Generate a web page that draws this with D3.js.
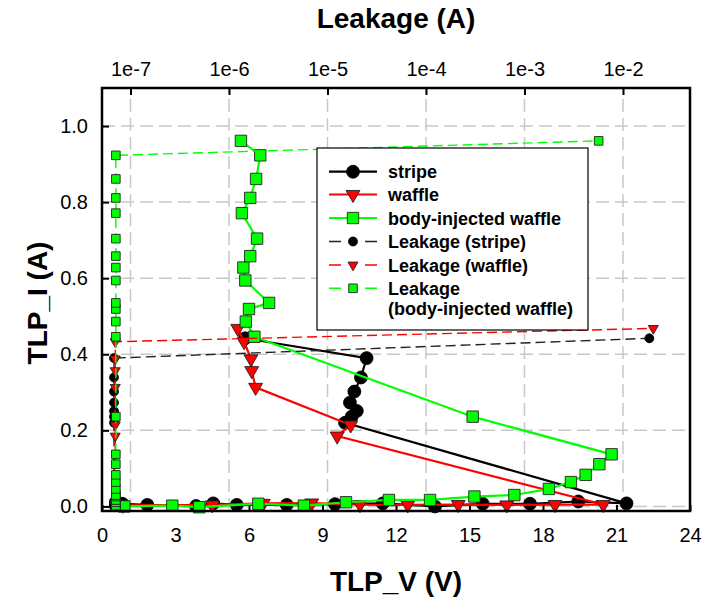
<!DOCTYPE html>
<html>
<head>
<meta charset="utf-8">
<script src="https://cdn.jsdelivr.net/npm/d3@7/dist/d3.min.js"></script>
<style>
  body { margin: 0; background: #fff; }
  svg { display: block; }
  text { font-family: Arial, "Liberation Sans", sans-serif; fill: #000; }
</style>
</head>
<body>
<svg id="chart" width="705" height="604"></svg>
<script>
// ---- TLP I-V data (bottom axis: TLP_V, left axis: TLP_I) ----
const stripeV = [0.83, 1.85, 3.84, 4.54, 5.5, 7.54, 9.51, 11.46, 13.59, 15.54, 17.47, 19.44, 21.41,
                 9.92, 10.19, 10.4, 10.12, 10.3, 10.57, 10.8, 5.84];
const stripeI = [0.007, 0.004, 0.001, 0.008, 0.004, 0.004, 0.006, 0.008, 0.0, 0.007, 0.007, 0.013, 0.008,
                 0.220, 0.236, 0.251, 0.273, 0.302, 0.339, 0.390, 0.442];

const waffleV = [0.85, 4.5, 6.58, 8.56, 10.53, 12.48, 14.54, 16.52, 18.49, 20.46,
                 9.6, 10.15, 6.27, 6.11, 6.08, 5.80, 5.54];
const waffleI = [0.003, 0.004, 0.008, 0.009, 0.005, 0.004, 0.005, 0.004, 0.005, 0.005,
                 0.185, 0.214, 0.313, 0.357, 0.388, 0.433, 0.468];

const bodyV = [0.91, 2.87, 3.97, 6.38, 8.24, 9.96, 11.71, 13.39, 15.2, 16.83, 18.24, 19.14, 19.74, 20.3, 20.8,
               15.13, 6.22, 5.87, 6.0, 6.82, 5.85, 5.77, 6.05, 6.33, 5.71, 6.05, 6.29, 6.46, 5.67];
const bodyI = [0.0, 0.002, -0.002, 0.007, 0.002, 0.011, 0.017, 0.017, 0.026, 0.030, 0.046, 0.064, 0.083, 0.111, 0.137,
               0.236, 0.446, 0.486, 0.519, 0.535, 0.594, 0.628, 0.658, 0.704, 0.771, 0.811, 0.861, 0.923, 0.961];

// ---- leakage after each pulse (top axis, A), plotted at the same TLP_I ----
const stripeLeak = [6.8e-8, 6.8e-8, 6.8e-8, 6.8e-8, 6.8e-8, 6.8e-8, 6.8e-8, 6.8e-8, 6.8e-8, 6.8e-8, 6.8e-8, 6.8e-8, 6.8e-8,
                    6.8e-8, 6.8e-8, 6.8e-8, 6.8e-8, 6.8e-8, 6.8e-8, 6.8e-8, 1.85e-2];
const waffleLeak = [7.0e-8, 7.0e-8, 7.0e-8, 7.0e-8, 7.0e-8, 7.0e-8, 7.0e-8, 7.0e-8, 7.0e-8, 7.0e-8,
                    7.0e-8, 7.0e-8, 7.0e-8, 7.0e-8, 7.0e-8, 7.0e-8, 2.03e-2];
const bodyLeak = [7.1e-8, 7.1e-8, 7.1e-8, 7.1e-8, 7.1e-8, 7.1e-8, 7.1e-8, 7.1e-8, 7.1e-8, 7.1e-8, 7.1e-8, 7.1e-8, 7.1e-8, 7.1e-8, 7.1e-8,
                  7.1e-8, 7.1e-8, 7.1e-8, 7.1e-8, 7.1e-8, 7.1e-8, 7.1e-8, 7.1e-8, 7.1e-8, 7.1e-8, 7.1e-8, 7.1e-8, 7.1e-8, 5.66e-3];

// ---- axis ticks ----
const vTicks = [0, 3, 6, 9, 12, 15, 18, 21, 24];
const iTicks = [0.0, 0.2, 0.4, 0.6, 0.8, 1.0];
const leakTicks = [1e-7, 1e-6, 1e-5, 1e-4, 1e-3, 1e-2];
const leakTickLabels = ["1e-7", "1e-6", "1e-5", "1e-4", "1e-3", "1e-2"];

const legendLabels = ["stripe", "waffle", "body-injected waffle",
                      "Leakage (stripe)", "Leakage (waffle)", ["Leakage", "(body-injected waffle)"]];

// ---- layout ----
const svg = d3.select("#chart");
const X0 = 102, X1 = 690, Y0 = 511, Y1 = 88;

const x = d3.scaleLinear().domain([0, 24]).range([X0, X1]);
const y = d3.scaleLinear().domain([-0.012, 1.1]).range([Y0, Y1]);
const xl = d3.scaleLog().domain([Math.pow(10, -7.2893), Math.pow(10, -1.3198)]).range([X0, X1]);

const GREEN = "#00ff00", RED = "#ff0000", BLACK = "#000000";

// grid
const grid = svg.append("g").attr("stroke", "#c8c8c8").attr("stroke-width", 1.5)
  .attr("stroke-dasharray", "13,6").attr("fill", "none");
grid.selectAll("line.h").data(iTicks).join("line").attr("class", "h")
  .attr("x1", X0).attr("x2", X1).attr("y1", d => y(d)).attr("y2", d => y(d));
grid.selectAll("line.v").data(leakTicks).join("line").attr("class", "v")
  .attr("x1", d => xl(d)).attr("x2", d => xl(d)).attr("y1", Y0).attr("y2", Y1);

// axes
const axLeft = svg.append("g").attr("transform", `translate(${X0},0)`)
  .call(d3.axisLeft(y).tickValues(iTicks).tickFormat(d3.format(".1f")).tickSize(-7).tickPadding(14));
const axBottom = svg.append("g").attr("transform", `translate(0,${Y0})`)
  .call(d3.axisBottom(x).tickValues(vTicks).tickFormat(d3.format("d")).tickSize(-6).tickPadding(17));
const axTop = svg.append("g").attr("transform", `translate(0,${Y1})`)
  .call(d3.axisTop(xl).tickValues(leakTicks).tickFormat((d, i) => leakTickLabels[i]).tickSize(-7).tickPadding(12));
[axLeft, axBottom, axTop].forEach(g => {
  g.select(".domain").remove();
  g.selectAll(".tick line").attr("stroke", "#000").attr("stroke-width", 2);
  g.selectAll(".tick text").attr("font-size", 20).attr("font-family", "Arial, 'Liberation Sans', sans-serif");
});

// series drawing
const markerPath = (type, size) => {
  if (type === "circle") return d3.symbol(d3.symbolCircle, size)();
  if (type === "square") return d3.symbol(d3.symbolSquare, size)();
  return d3.symbol(d3.symbolTriangle, size)();
};
const markerTransform = (type, px, py) =>
  type === "triangle" ? `translate(${px},${py}) rotate(180)` : `translate(${px},${py})`;

function drawSeries(pts, color, lineColor, type, size, dashed, lw) {
  const g = svg.append("g");
  const line = d3.line().x(d => d[0]).y(d => d[1]);
  g.append("path").attr("d", line(pts)).attr("fill", "none")
    .attr("stroke", lineColor).attr("stroke-width", lw)
    .attr("stroke-dasharray", dashed ? "10,5" : null);
  g.selectAll("path.m").data(pts).join("path").attr("class", "m")
    .attr("d", markerPath(type, size))
    .attr("transform", d => markerTransform(type, d[0], d[1]))
    .attr("fill", color).attr("stroke", type === "circle" ? "#000" : "#222").attr("stroke-width", 0.9);
}

const ivPts = (V, I) => V.map((v, k) => [x(v), y(I[k])]);
const lkPts = (L, I) => L.map((l, k) => [xl(l), y(I[k])]);

drawSeries(ivPts(stripeV, stripeI), BLACK, BLACK, "circle", 130, false, 2.2);
drawSeries(ivPts(waffleV, waffleI), RED, RED, "triangle", 84, false, 2.2);
drawSeries(ivPts(bodyV, bodyI), GREEN, GREEN, "square", 130, false, 2.2);
drawSeries(lkPts(stripeLeak, stripeI), BLACK, "#222", "circle", 62, true, 1.4);
drawSeries(lkPts(waffleLeak, waffleI), RED, RED, "triangle", 44, true, 1.4);
drawSeries(lkPts(bodyLeak, bodyI), GREEN, GREEN, "square", 74, true, 1.4);

// frame
svg.append("rect").attr("x", X0).attr("y", Y1).attr("width", X1 - X0).attr("height", Y0 - Y1)
  .attr("fill", "none").attr("stroke", "#000").attr("stroke-width", 2.5);

// axis titles
svg.append("text").attr("x", 396).attr("y", 28).attr("text-anchor", "middle")
  .attr("font-size", 28).attr("font-weight", "bold").text("Leakage (A)");
svg.append("text").attr("x", 396).attr("y", 591).attr("text-anchor", "middle")
  .attr("font-size", 28).attr("font-weight", "bold").text("TLP_V (V)");
svg.append("text").attr("transform", "translate(47,303) rotate(-90)").attr("text-anchor", "middle")
  .attr("font-size", 28).attr("font-weight", "bold").text("TLP_I (A)");

// legend
const lg = svg.append("g");
lg.append("rect").attr("x", 317).attr("y", 148).attr("width", 271).attr("height", 182)
  .attr("fill", "#fff").attr("stroke", "#000").attr("stroke-width", 1.2);
const legendItems = [
  {color: BLACK, lc: BLACK, type: "circle", size: 130, dashed: false},
  {color: RED, lc: RED, type: "triangle", size: 84, dashed: false},
  {color: GREEN, lc: GREEN, type: "square", size: 130, dashed: false},
  {color: BLACK, lc: "#222", type: "circle", size: 62, dashed: true},
  {color: RED, lc: RED, type: "triangle", size: 44, dashed: true},
  {color: GREEN, lc: GREEN, type: "square", size: 74, dashed: true}
];
const rowY = [171.7, 194.5, 218, 241.5, 265, 288.3];
legendItems.forEach((it, k) => {
  const cy = rowY[k];
  lg.append("line").attr("x1", 329).attr("x2", 377).attr("y1", cy).attr("y2", cy)
    .attr("stroke", it.lc).attr("stroke-width", it.dashed ? 1.4 : 2.2)
    .attr("stroke-dasharray", it.dashed ? "12,24" : null);
  lg.append("path").attr("d", markerPath(it.type, it.size))
    .attr("transform", markerTransform(it.type, 353, cy))
    .attr("fill", it.color).attr("stroke", it.type === "circle" ? "#000" : "#222").attr("stroke-width", 0.9);
  const lab = legendLabels[k];
  const t = lg.append("text").attr("x", 388).attr("y", cy + 6.5)
    .attr("font-size", 18).attr("font-weight", "bold");
  if (Array.isArray(lab)) {
    t.append("tspan").attr("x", 388).text(lab[0]);
    t.append("tspan").attr("x", 388).attr("dy", 20).text(lab[1]);
  } else {
    t.text(lab);
  }
});
</script>
</body>
</html>
